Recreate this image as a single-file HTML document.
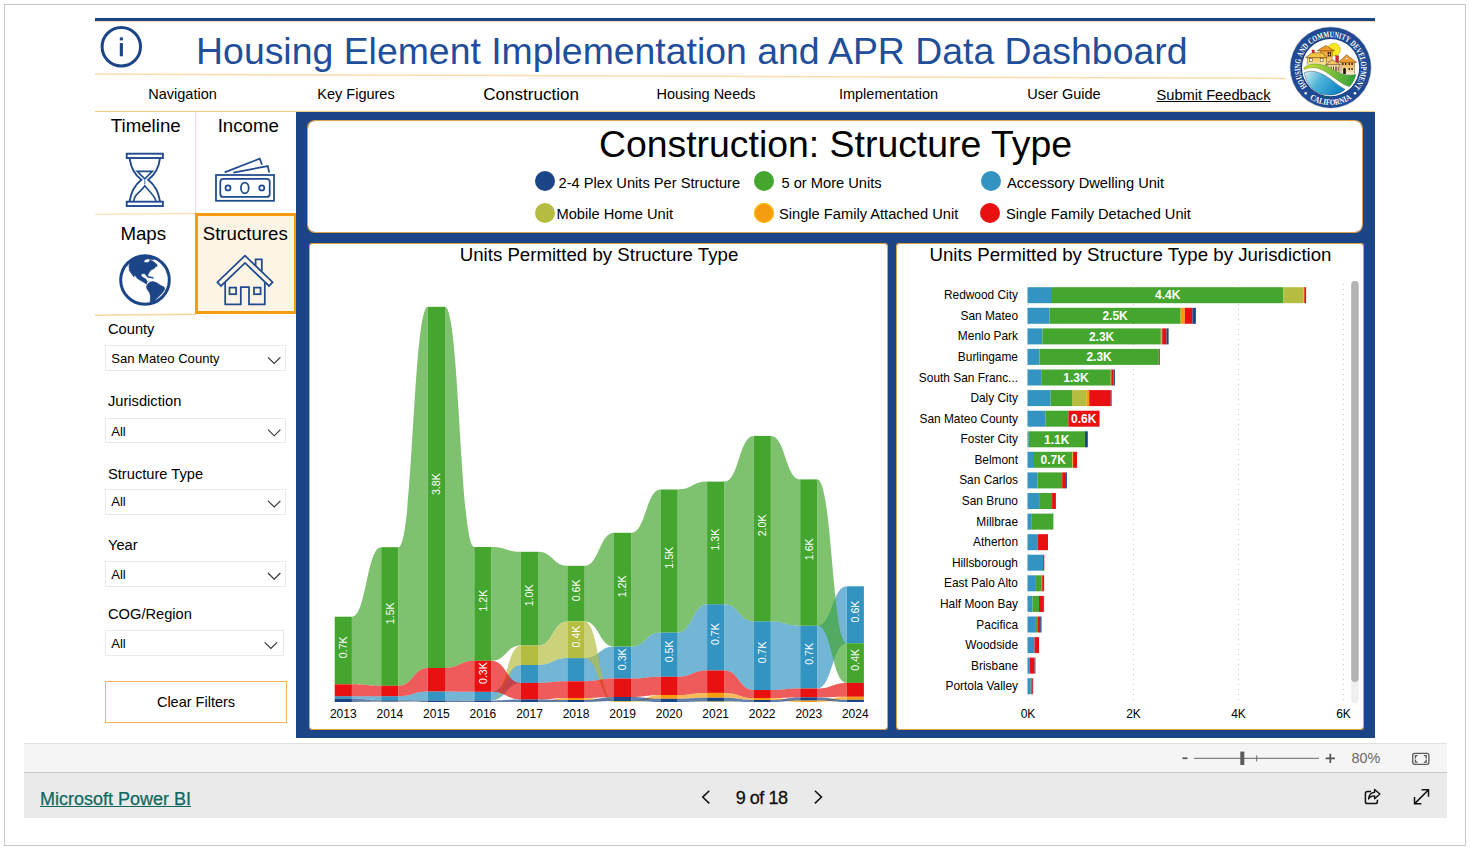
<!DOCTYPE html>
<html lang="en">
<head>
<meta charset="utf-8">
<title>Housing Element Implementation and APR Data Dashboard</title>
<style>
*{box-sizing:border-box;margin:0;padding:0}
html,body{width:1470px;height:849px;overflow:hidden;background:#fff}
body{position:relative;font-family:"Liberation Sans",Arial,sans-serif;color:#000}
.abs{position:absolute}
#frame{left:4px;top:4px;width:1462px;height:842px;border:1px solid #c8c8c8}
#topline{left:95px;top:18px;width:1280px;height:3.6px;background:#1C4587}
#topline2{left:95px;top:21.4px;width:1280px;height:1px;background:#f9dcae}
#title{left:191.8px;top:29.1px;width:1000px;height:44px;line-height:44px;font-size:37.4px;color:#1F4E9A;white-space:nowrap;text-align:center}
.oline{background:#fbd9a6;height:1.3px}
.nav{top:84px;height:20px;line-height:20px;font-size:14.5px;white-space:nowrap;transform:translateX(-50%)}
#blueframe{left:296.4px;top:112px;width:1078.6px;height:626px;background:#1C4587}
.panel{background:#fff;background-clip:padding-box;border:1px solid rgba(255,176,64,0.85);border-radius:3px}
.tile{width:100.5px;text-align:center;font-size:18.67px;line-height:22px;white-space:nowrap}
.slab{left:108px;font-size:14.67px;line-height:18px;white-space:nowrap}
.sbox{left:105px;width:181px;height:25.5px;border:1px solid #eaeaea;font-size:13.1px;line-height:25.5px;padding-left:5.2px;white-space:nowrap}
.leg{font-size:14.67px;line-height:18px;white-space:nowrap}
.dot{width:20px;height:20px;border-radius:50%}
.ctitle{font-size:18.67px;line-height:22px;white-space:nowrap;text-align:center}
svg text{font-family:"Liberation Sans",Arial,sans-serif}
#sb1{left:24px;top:743px;width:1423px;height:30px;background:#f5f5f5;border-top:1px solid #e1e1e1;border-bottom:1px solid #c8c8c8}
#sb2{left:24px;top:773px;width:1423px;height:45px;background:#eaeaea}
</style>
</head>
<body>
<div id="frame" class="abs"></div>

<!-- header -->
<div id="topline" class="abs"></div>
<div id="topline2" class="abs"></div>
<svg class="abs" style="left:99px;top:24px" width="45" height="45" viewBox="0 0 45 45">
  <circle cx="22.3" cy="22.75" r="19.2" fill="none" stroke="#1C4587" stroke-width="3"/>
  <rect x="20.8" y="19.1" width="3.1" height="13.2" fill="#1C4587"/>
  <rect x="20.8" y="13.4" width="3.1" height="3" fill="#1C4587"/>
</svg>
<div id="title" class="abs">Housing Element Implementation and APR Data Dashboard</div>
<svg class="abs" style="left:0;top:0" width="1470" height="400" viewBox="0 0 1470 400"><line x1="95" y1="74.05" x2="1286" y2="78.4" stroke="#fbdcae" stroke-width="1.5"/><line x1="95" y1="214.4" x2="196" y2="213.5" stroke="#fce0b8" stroke-width="1.4"/><line x1="95" y1="315.3" x2="196" y2="314.3" stroke="#fbd5a0" stroke-width="1.4"/></svg>
<div class="abs nav" style="left:182.5px">Navigation</div>
<div class="abs nav" style="left:356px">Key Figures</div>
<div class="abs nav" style="left:531.2px;font-size:17.07px;top:85px">Construction</div>
<div class="abs nav" style="left:706px">Housing Needs</div>
<div class="abs nav" style="left:888.5px">Implementation</div>
<div class="abs nav" style="left:1064px">User Guide</div>
<div class="abs nav" style="left:1213.5px;text-decoration:underline;font-size:14.67px;top:85px">Submit Feedback</div>
<div class="abs oline" style="left:95px;top:110.8px;width:1280px;height:1.2px;background:#f9c98a"></div>
<svg class="abs" style="left:1285px;top:22px" width="92" height="92" viewBox="-45.6 -45.6 92 92">
  <defs>
    <linearGradient id="lgGreen" x1="0" y1="0" x2="1" y2="0"><stop offset="0" stop-color="#d4e02a"/><stop offset="0.45" stop-color="#8cc63a"/><stop offset="1" stop-color="#2f9e3a"/></linearGradient>
    <linearGradient id="lgBlue" x1="0" y1="0" x2="1" y2="0.4"><stop offset="0" stop-color="#d8eef4"/><stop offset="0.45" stop-color="#4db4d8"/><stop offset="1" stop-color="#1488c4"/></linearGradient>
    <linearGradient id="lgH1" x1="0" y1="0" x2="0" y2="1"><stop offset="0" stop-color="#f8c64a"/><stop offset="1" stop-color="#fbeab0"/></linearGradient>
    <linearGradient id="lgH2" x1="0" y1="0" x2="0" y2="1"><stop offset="0" stop-color="#f39a25"/><stop offset="1" stop-color="#f8cf7a"/></linearGradient>
    <linearGradient id="lgH3" x1="0" y1="0" x2="0" y2="1"><stop offset="0" stop-color="#f4a73a"/><stop offset="1" stop-color="#fdf3dc"/></linearGradient>
    <clipPath id="lgClip"><circle cx="0" cy="0" r="28.6"/></clipPath>
    <path id="lgTop" d="M-23.63,19.13 A30.4,30.4 0 1 1 23.63,19.13"/>
    <path id="lgBot" d="M-20.97,31.09 A37.5,37.5 0 0 0 20.97,31.09"/>
  </defs>
  <circle cx="0" cy="0" r="41" fill="#c9ccd4"/>
  <circle cx="0" cy="0" r="40.3" fill="#1F4A93"/>
  <circle cx="0" cy="0" r="29.2" fill="#16356e"/>
  <circle cx="0" cy="0" r="28.6" fill="#fff"/>
  <g clip-path="url(#lgClip)">
    <circle cx="3.4" cy="-17.9" r="6.4" fill="#f7ea1e" stroke="#b59a14" stroke-width="0.5"/>
    <!-- back orange house -->
    <path d="M-10.6,-17.1 H1.6 V-6 H-10.6 Z" fill="url(#lgH2)" stroke="#5a3a10" stroke-width="0.4"/>
    <path d="M-13.5,-16.8 L-4.8,-22.2 L3.9,-16.8 Z" fill="#f39a25" stroke="#5a3a10" stroke-width="0.5"/>
    <path d="M-2.9,-15.6 h1.4 v1.9 h-1.4z M-0.9,-15.6 h1.4 v1.9 h-1.4z M-2.9,-13.1 h1.4 v1.9 h-1.4z M-0.9,-13.1 h1.4 v1.9 h-1.4z" fill="#3a2508"/>
    <!-- red chimneys -->
    <rect x="-18.6" y="-17.6" width="2.4" height="3" fill="#d8202a" stroke="#6a1010" stroke-width="0.3"/>
    <rect x="5.1" y="-11.8" width="2.9" height="6.6" fill="#d8202a" stroke="#6a1010" stroke-width="0.3"/>
    <!-- left house -->
    <path d="M-23.3,-10.2 H-4.2 V-1.5 H-23.3 Z" fill="url(#lgH1)" stroke="#5a3a10" stroke-width="0.4"/>
    <path d="M-25.2,-10 L-18.2,-14.8 H-8.8 L-3.4,-10 Z" fill="#f6c345" stroke="#5a3a10" stroke-width="0.5"/>
    <rect x="-21" y="-8.9" width="2.8" height="2.6" fill="#fff" stroke="#4a3a20" stroke-width="0.5"/>
    <rect x="-10.4" y="-8.9" width="2.8" height="2.6" fill="#fff" stroke="#4a3a20" stroke-width="0.5"/>
    <!-- right house -->
    <path d="M10.3,-5.6 H23.9 V7.5 H10.3 Z" fill="url(#lgH3)" stroke="#5a3a10" stroke-width="0.4"/>
    <path d="M7.8,-5.3 L15.9,-12.9 L25.9,-5.3 Z" fill="#f3a030" stroke="#5a3a10" stroke-width="0.5"/>
    <circle cx="15.9" cy="-9.2" r="1.2" fill="#fff" stroke="#5a3a10" stroke-width="0.3"/>
    <path d="M11.6,-4.6 h1.3 v2 h-1.3z M14.4,-4.6 h1.3 v2 h-1.3z M18,-4.6 h1.3 v2 h-1.3z M20.8,-4.6 h1.3 v2 h-1.3z M18,0.3 h1.3 v2 h-1.3z M20.8,0.3 h1.3 v2 h-1.3z" fill="#2a1a08"/>
    <path d="M12.6,6.5 V1.8 a1.3,1.3 0 0 1 2.6,0 V6.5 Z" fill="#111"/>
    <!-- front tan house -->
    <path d="M-3.7,-3.3 H9 V5 H-3.7 Z" fill="#f3d9a0" stroke="#5a3a10" stroke-width="0.4"/>
    <path d="M-5.1,-3 L1.6,-7.8 L9.8,-3 Z" fill="#f4c26a" stroke="#5a3a10" stroke-width="0.5"/>
    <path d="M0.2,-1 h1 v4.6 h-1z M2.4,-1 h1 v4.6 h-1z M4.6,-1 h1.6 v4.6 h-1.6z M7.2,-1 h0.9 v4.6 h-0.9z" fill="#6b5a3a"/>
    <!-- white band -->
    <path d="M-27.5,0 C-22,-6 -12,-5.5 -2,-0.5 C8,5.5 14,9.5 26,6.5 L21,21 L0,28.5 L-28,10 Z" fill="#fff"/>
    <!-- green wave -->
    <path d="M-26.8,0.2 C-21,-5.2 -12,-4.8 -1,-0.2 C8,5.5 15,9.4 25.4,7 C24,12 21.5,16.5 19.2,19 C12,17 6,12 -1,6.8 C-9,1 -17,-2.6 -26,2 Z" fill="url(#lgGreen)" stroke="#2a5a1a" stroke-width="0.35"/>
    <!-- blue water -->
    <path d="M-26.2,5 C-18,1.6 -9,5 0,11.6 C5,15.5 10,19.6 14.5,21.8 C9,27 -2,29.5 -12,25.5 C-21,21 -25.5,13 -26.2,5 Z" fill="url(#lgBlue)" stroke="#1a3a5a" stroke-width="0.4"/>
  </g>
  <g fill="#fff" style="font-family:'Liberation Serif','DejaVu Serif',serif;font-weight:bold;font-size:8.5px;word-spacing:1px">
    <text style="font-family:inherit"><textPath href="#lgTop" startOffset="0" textLength="136.9" lengthAdjust="spacingAndGlyphs">HOUSING AND COMMUNITY DEVELOPMENT</textPath></text>
    <text style="font-family:inherit"><textPath href="#lgBot" startOffset="0" textLength="44.5" lengthAdjust="spacingAndGlyphs">CALIFORNIA</textPath></text>
  </g>
  <circle cx="-24.9" cy="25.6" r="1.3" fill="#fff"/>
  <circle cx="24.4" cy="25.6" r="1.3" fill="#fff"/>
</svg>


<!-- sidebar tiles -->
<div class="abs" style="left:195px;top:112px;width:1.2px;height:102px;background:#fbdcb0"></div>
<div class="abs tile" style="left:95.5px;top:114.6px">Timeline</div>
<div class="abs tile" style="left:198px;top:114.6px">Income</div>
<div class="abs" style="left:195px;top:213px;width:102px;height:100.9px;border:3px solid #F59C14;background:#FEF4E6"></div>
<div class="abs tile" style="left:93px;top:222.5px">Maps</div>
<div class="abs tile" style="left:195px;top:222.5px">Structures</div>
<svg class="abs" style="left:0;top:0" width="1470" height="849" viewBox="0 0 1470 849" fill="none" stroke="#1F4B8E" stroke-width="1.75" stroke-linejoin="miter">
  <!-- hourglass -->
  <g stroke-width="1.9">
  <rect x="126.7" y="153.7" width="36.2" height="4.3"/>
  <rect x="126.7" y="201.7" width="36.2" height="4.3"/>
  <path d="M129.6,158.4 C131,169 135.5,175.5 141.4,179.8 C135.5,184.5 131,192 129.6,201.4"/>
  <path d="M160,158.4 C158.6,169 154.1,175.5 148.2,179.8 C154.1,184.5 158.6,192 160,201.4"/>
  <path d="M137.2,171.4 H152.4 L144.8,178.8 Z" stroke-width="1.6"/>
  <path d="M144.8,186 C142,190 137,193.5 135.5,196 C134.5,197.8 133.8,199.5 133.6,201 M144.8,186 C148.5,190.5 154.5,195.5 156,201" stroke-width="1.6"/>
  <path d="M144.8,180.5 v5.5" stroke-width="1.4" stroke-dasharray="1.2 0.9"/>
  </g>
  <!-- money -->
  <rect x="216" y="175" width="58" height="25.8"/>
  <rect x="220.3" y="178.9" width="49.4" height="18" rx="3"/>
  <ellipse cx="244.8" cy="187.9" rx="3.9" ry="5.4"/>
  <circle cx="228" cy="187.9" r="2.5"/>
  <circle cx="261.8" cy="187.9" r="2.5"/>
  <path d="M224.6,172.4 L259.7,158.7 L262,164.8 M233.4,172.6 L267.8,166.1 L269.2,172.6"/>
  <!-- house -->
  <path d="M245,255.6 L217.4,282.2 L221,286 L245,262.9 L269,286 L272.6,282.2 Z"/>
  <path d="M255.6,265.6 V259.4 H261.8 V271.5"/>
  <path d="M225.2,282.6 V304.4 H240.8 V287.2 H249 V304.4 H264.8 V282.6"/>
  <rect x="229.5" y="287.6" width="6.6" height="6.6"/>
  <rect x="254" y="287.6" width="6.6" height="6.6"/>
</svg>
<svg class="abs" style="left:117px;top:251.75px" width="56" height="56" viewBox="-28 -28 56 56">
  <!-- globe -->
  <defs><clipPath id="gbClip"><circle cx="0" cy="0" r="24.6"/></clipPath></defs>
  <circle cx="0" cy="0" r="24.3" fill="#fff" stroke="#1C4587" stroke-width="3"/>
  <g fill="#1C4587" stroke="#1C4587" stroke-width="0.6" stroke-linejoin="round" clip-path="url(#gbClip)">
    <path d="M-16.0,-14.8 L-15.7,-9.5 L-11.1,-3.1 L-10.3,-5.2 L-7.7,-1.6 L-3.9,0.8 L-0.9,2.6 L1.4,4.3 L2.3,1.4 L0.6,-1.2 L-1.3,-2.2 L-2.9,-2.9 L-4.1,-5.0 L-2.8,-6.3 L-0.2,-6.3 L1.4,-4.2 L2.5,-2.7 L3.1,-5.4 L4.1,-7.6 L6.3,-10.2 L9.3,-11.5 L10.4,-13.3 L12.3,-13.8 L11.5,-15.9 L9.3,-17.8 L7.0,-19.3 L4.7,-19.7 L4.0,-17.8 L1.0,-17.3 L-1.3,-18.2 L-0.5,-20.0 L2.5,-21.2 L6.3,-20.4 L9.3,-20.4 L4.7,-24.2 L0.0,-25.3 L-8.1,-24.2 L-14.1,-19.7Z"/>
    <path d="M2.5,-3.7 L8.1,-2.6 L8.4,-1.7 L3.2,-2.6Z"/>
    <path d="M2.5,4.3 L4.7,2.2 L7.8,1.4 L11.5,2.6 L15.3,5.2 L19.1,7.1 L19.8,9.3 L16.8,13.5 L12.3,18.0 L9.3,21.0 L6.3,23.7 L5.1,22.5 L5.5,16.5 L4.7,12.7 L2.1,9.3 L1.4,6.7Z"/>
  </g>
</svg>


<!-- slicers -->
<div class="abs slab" style="top:320px">County</div>
<div class="abs sbox" style="top:345px">San Mateo County</div>
<div class="abs slab" style="top:392px">Jurisdiction</div>
<div class="abs sbox" style="top:417.5px">All</div>
<div class="abs slab" style="top:464.5px">Structure Type</div>
<div class="abs sbox" style="top:489px;line-height:24px">All</div>
<div class="abs slab" style="top:536px">Year</div>
<div class="abs sbox" style="top:561px">All</div>
<div class="abs slab" style="top:605.4px">COG/Region</div>
<div class="abs sbox" style="top:630.4px;width:179px">All</div>
<svg class="abs" style="left:0;top:0;pointer-events:none" width="1470" height="849" fill="none" stroke="#333" stroke-width="1.15">
  <path d="M268,357.3 l6.2,6.2 l6.2,-6.2"/>
  <path d="M268,429.6 l6.2,6.2 l6.2,-6.2"/>
  <path d="M268,500.8 l6.2,6.2 l6.2,-6.2"/>
  <path d="M268,573 l6.2,6.2 l6.2,-6.2"/>
  <path d="M264.7,642.3 l6.2,6.2 l6.2,-6.2"/>
</svg>
<div class="abs" style="left:105px;top:680.5px;width:182px;height:42.5px;border:1.2px solid #f7b656;text-align:center;line-height:40px;font-size:14.5px">Clear Filters</div>

<!-- main -->
<div id="blueframe" class="abs"></div>
<div class="abs panel" style="left:306.8px;top:119.8px;width:1056px;height:113px;border-radius:8px"></div>
<div class="abs panel" style="left:308.6px;top:243px;width:579.2px;height:487px"></div>
<div class="abs panel" style="left:896px;top:243px;width:467.8px;height:487px"></div>

<div class="abs" style="left:307px;top:121.1px;width:1057px;height:46px;line-height:46px;font-size:37.4px;text-align:center;white-space:nowrap">Construction: Structure Type</div>

<div class="abs dot" style="left:535px;top:171px;background:#1C4587"></div>
<div class="abs leg" style="left:558.5px;top:174px">2-4 Plex Units Per Structure</div>
<div class="abs dot" style="left:754px;top:171px;background:#44A62E"></div>
<div class="abs leg" style="left:781.5px;top:174px">5 or More Units</div>
<div class="abs dot" style="left:981px;top:171px;background:#3394C2"></div>
<div class="abs leg" style="left:1007px;top:174px">Accessory Dwelling Unit</div>
<div class="abs dot" style="left:535px;top:202.5px;background:#B5BD40"></div>
<div class="abs leg" style="left:556.5px;top:205px">Mobile Home Unit</div>
<div class="abs dot" style="left:754px;top:202.5px;background:#F59C0F;box-shadow:inset 0 0 0 1px #fcc419"></div>
<div class="abs leg" style="left:779px;top:205px">Single Family Attached Unit</div>
<div class="abs dot" style="left:980px;top:202.5px;background:#E81010"></div>
<div class="abs leg" style="left:1006px;top:205px">Single Family Detached Unit</div>

<div class="abs ctitle" style="left:309px;top:244px;width:580px">Units Permitted by Structure Type</div>
<div class="abs ctitle" style="left:896px;top:244px;width:469px">Units Permitted by Structure Type by Jurisdiction</div>

<svg class="abs" style="left:0;top:0" width="1470" height="849" viewBox="0 0 1470 849">
<path d="M351.9,696.2C366.6,696.2 366.6,696.2 381.2,696.2L381.2,700.3C366.6,700.3 366.6,698.8 351.9,698.8Z" fill="#3394C2" fill-opacity="0.69"/>
<path d="M351.9,616.7C366.6,616.7 366.6,547.2 381.2,547.2L381.2,685.8C366.6,685.8 366.6,684.3 351.9,684.3Z" fill="#44A62E" fill-opacity="0.69"/>
<path d="M351.9,702.0C366.6,702.0 366.6,701.6 381.2,701.6L381.2,702.0C366.6,702.0 366.6,702.0 351.9,702.0Z" fill="#B5BD40" fill-opacity="0.69"/>
<path d="M351.9,684.3C366.6,684.3 366.6,685.8 381.2,685.8L381.2,696.2C366.6,696.2 366.6,696.2 351.9,696.2Z" fill="#E81010" fill-opacity="0.69"/>
<path d="M351.9,698.8C366.6,698.8 366.6,700.3 381.2,700.3L381.2,701.6C366.6,701.6 366.6,702.0 351.9,702.0Z" fill="#1C4587" fill-opacity="0.69"/>
<path d="M398.5,696.2C413.1,696.2 413.1,691.4 427.8,691.4L427.8,700.5C413.1,700.5 413.1,700.3 398.5,700.3Z" fill="#3394C2" fill-opacity="0.69"/>
<path d="M398.5,547.2C413.1,547.2 413.1,306.8 427.8,306.8L427.8,668.0C413.1,668.0 413.1,685.8 398.5,685.8Z" fill="#44A62E" fill-opacity="0.69"/>
<path d="M398.5,701.6C413.1,701.6 413.1,702.0 427.8,702.0L427.8,702.0C413.1,702.0 413.1,702.0 398.5,702.0Z" fill="#B5BD40" fill-opacity="0.69"/>
<path d="M398.5,685.8C413.1,685.8 413.1,668.0 427.8,668.0L427.8,691.4C413.1,691.4 413.1,696.2 398.5,696.2Z" fill="#E81010" fill-opacity="0.69"/>
<path d="M398.5,700.3C413.1,700.3 413.1,700.5 427.8,700.5L427.8,702.0C413.1,702.0 413.1,701.6 398.5,701.6Z" fill="#1C4587" fill-opacity="0.69"/>
<path d="M445.0,691.4C459.7,691.4 459.7,691.8 474.3,691.8L474.3,700.2C459.7,700.2 459.7,700.5 445.0,700.5Z" fill="#3394C2" fill-opacity="0.69"/>
<path d="M445.0,306.8C459.7,306.8 459.7,547.0 474.3,547.0L474.3,660.8C459.7,660.8 459.7,668.0 445.0,668.0Z" fill="#44A62E" fill-opacity="0.69"/>
<path d="M445.0,702.0C459.7,702.0 459.7,700.2 474.3,700.2L474.3,700.4C459.7,700.4 459.7,702.0 445.0,702.0Z" fill="#B5BD40" fill-opacity="0.69"/>
<path d="M445.0,668.0C459.7,668.0 459.7,660.8 474.3,660.8L474.3,691.8C459.7,691.8 459.7,691.4 445.0,691.4Z" fill="#E81010" fill-opacity="0.69"/>
<path d="M445.0,700.5C459.7,700.5 459.7,700.4 474.3,700.4L474.3,702.0C459.7,702.0 459.7,702.0 445.0,702.0Z" fill="#1C4587" fill-opacity="0.69"/>
<path d="M491.6,691.8C506.2,691.8 506.2,665.0 520.9,665.0L520.9,682.9C506.2,682.9 506.2,700.2 491.6,700.2Z" fill="#3394C2" fill-opacity="0.69"/>
<path d="M491.6,547.0C506.2,547.0 506.2,551.8 520.9,551.8L520.9,645.5C506.2,645.5 506.2,660.8 491.6,660.8Z" fill="#44A62E" fill-opacity="0.69"/>
<path d="M491.6,700.2C506.2,700.2 506.2,645.5 520.9,645.5L520.9,665.0C506.2,665.0 506.2,700.4 491.6,700.4Z" fill="#B5BD40" fill-opacity="0.69"/>
<path d="M491.6,660.8C506.2,660.8 506.2,682.9 520.9,682.9L520.9,699.5C506.2,699.5 506.2,691.8 491.6,691.8Z" fill="#E81010" fill-opacity="0.69"/>
<path d="M491.6,700.4C506.2,700.4 506.2,699.5 520.9,699.5L520.9,702.0C506.2,702.0 506.2,702.0 491.6,702.0Z" fill="#1C4587" fill-opacity="0.69"/>
<path d="M538.1,665.0C552.8,665.0 552.8,658.1 567.4,658.1L567.4,681.3C552.8,681.3 552.8,682.9 538.1,682.9Z" fill="#3394C2" fill-opacity="0.69"/>
<path d="M538.1,551.8C552.8,551.8 552.8,565.8 567.4,565.8L567.4,621.4C552.8,621.4 552.8,645.5 538.1,645.5Z" fill="#44A62E" fill-opacity="0.69"/>
<path d="M538.1,645.5C552.8,645.5 552.8,621.4 567.4,621.4L567.4,658.1C552.8,658.1 552.8,665.0 538.1,665.0Z" fill="#B5BD40" fill-opacity="0.69"/>
<path d="M538.1,682.9C552.8,682.9 552.8,681.3 567.4,681.3L567.4,698.0C552.8,698.0 552.8,699.5 538.1,699.5Z" fill="#E81010" fill-opacity="0.69"/>
<path d="M538.1,702.0C552.8,702.0 552.8,698.0 567.4,698.0L567.4,700.0C552.8,700.0 552.8,702.0 538.1,702.0Z" fill="#F59C0F" fill-opacity="0.69"/>
<path d="M538.1,699.5C552.8,699.5 552.8,700.0 567.4,700.0L567.4,702.0C552.8,702.0 552.8,702.0 538.1,702.0Z" fill="#1C4587" fill-opacity="0.69"/>
<path d="M584.6,658.1C599.3,658.1 599.3,646.5 614.0,646.5L614.0,678.6C599.3,678.6 599.3,681.3 584.6,681.3Z" fill="#3394C2" fill-opacity="0.69"/>
<path d="M584.6,565.8C599.3,565.8 599.3,532.8 614.0,532.8L614.0,646.5C599.3,646.5 599.3,621.4 584.6,621.4Z" fill="#44A62E" fill-opacity="0.69"/>
<path d="M584.6,621.4C599.3,621.4 599.3,701.2 614.0,701.2L614.0,702.0C599.3,702.0 599.3,658.1 584.6,658.1Z" fill="#B5BD40" fill-opacity="0.69"/>
<path d="M584.6,681.3C599.3,681.3 599.3,678.6 614.0,678.6L614.0,697.0C599.3,697.0 599.3,698.0 584.6,698.0Z" fill="#E81010" fill-opacity="0.69"/>
<path d="M584.6,698.0C599.3,698.0 599.3,701.0 614.0,701.0L614.0,701.2C599.3,701.2 599.3,700.0 584.6,700.0Z" fill="#F59C0F" fill-opacity="0.69"/>
<path d="M584.6,700.0C599.3,700.0 599.3,697.0 614.0,697.0L614.0,701.0C599.3,701.0 599.3,702.0 584.6,702.0Z" fill="#1C4587" fill-opacity="0.69"/>
<path d="M631.2,646.5C645.9,646.5 645.9,632.4 660.5,632.4L660.5,676.8C645.9,676.8 645.9,678.6 631.2,678.6Z" fill="#3394C2" fill-opacity="0.69"/>
<path d="M631.2,532.8C645.9,532.8 645.9,489.5 660.5,489.5L660.5,632.4C645.9,632.4 645.9,646.5 631.2,646.5Z" fill="#44A62E" fill-opacity="0.69"/>
<path d="M631.2,701.2C645.9,701.2 645.9,702.0 660.5,702.0L660.5,702.0C645.9,702.0 645.9,702.0 631.2,702.0Z" fill="#B5BD40" fill-opacity="0.69"/>
<path d="M631.2,678.6C645.9,678.6 645.9,676.8 660.5,676.8L660.5,695.0C645.9,695.0 645.9,697.0 631.2,697.0Z" fill="#E81010" fill-opacity="0.69"/>
<path d="M631.2,701.0C645.9,701.0 645.9,695.0 660.5,695.0L660.5,698.8C645.9,698.8 645.9,701.2 631.2,701.2Z" fill="#F59C0F" fill-opacity="0.69"/>
<path d="M631.2,697.0C645.9,697.0 645.9,698.8 660.5,698.8L660.5,702.0C645.9,702.0 645.9,701.0 631.2,701.0Z" fill="#1C4587" fill-opacity="0.69"/>
<path d="M677.8,632.4C692.4,632.4 692.4,604.2 707.1,604.2L707.1,670.5C692.4,670.5 692.4,676.8 677.8,676.8Z" fill="#3394C2" fill-opacity="0.69"/>
<path d="M677.8,489.5C692.4,489.5 692.4,481.6 707.1,481.6L707.1,604.2C692.4,604.2 692.4,632.4 677.8,632.4Z" fill="#44A62E" fill-opacity="0.69"/>
<path d="M677.8,702.0C692.4,702.0 692.4,701.2 707.1,701.2L707.1,702.0C692.4,702.0 692.4,702.0 677.8,702.0Z" fill="#B5BD40" fill-opacity="0.69"/>
<path d="M677.8,676.8C692.4,676.8 692.4,670.5 707.1,670.5L707.1,692.9C692.4,692.9 692.4,695.0 677.8,695.0Z" fill="#E81010" fill-opacity="0.69"/>
<path d="M677.8,695.0C692.4,695.0 692.4,692.9 707.1,692.9L707.1,697.8C692.4,697.8 692.4,698.8 677.8,698.8Z" fill="#F59C0F" fill-opacity="0.69"/>
<path d="M677.8,698.8C692.4,698.8 692.4,697.8 707.1,697.8L707.1,701.2C692.4,701.2 692.4,702.0 677.8,702.0Z" fill="#1C4587" fill-opacity="0.69"/>
<path d="M724.3,604.2C739.0,604.2 739.0,621.3 753.6,621.3L753.6,690.0C739.0,690.0 739.0,670.5 724.3,670.5Z" fill="#3394C2" fill-opacity="0.69"/>
<path d="M724.3,481.6C739.0,481.6 739.0,435.9 753.6,435.9L753.6,621.3C739.0,621.3 739.0,604.2 724.3,604.2Z" fill="#44A62E" fill-opacity="0.69"/>
<path d="M724.3,701.2C739.0,701.2 739.0,702.0 753.6,702.0L753.6,702.0C739.0,702.0 739.0,702.0 724.3,702.0Z" fill="#B5BD40" fill-opacity="0.69"/>
<path d="M724.3,670.5C739.0,670.5 739.0,690.0 753.6,690.0L753.6,698.0C739.0,698.0 739.0,692.9 724.3,692.9Z" fill="#E81010" fill-opacity="0.69"/>
<path d="M724.3,692.9C739.0,692.9 739.0,698.0 753.6,698.0L753.6,700.0C739.0,700.0 739.0,697.8 724.3,697.8Z" fill="#F59C0F" fill-opacity="0.69"/>
<path d="M724.3,697.8C739.0,697.8 739.0,700.0 753.6,700.0L753.6,702.0C739.0,702.0 739.0,701.2 724.3,701.2Z" fill="#1C4587" fill-opacity="0.69"/>
<path d="M770.9,621.3C785.5,621.3 785.5,625.7 800.2,625.7L800.2,688.5C785.5,688.5 785.5,690.0 770.9,690.0Z" fill="#3394C2" fill-opacity="0.69"/>
<path d="M770.9,435.9C785.5,435.9 785.5,479.4 800.2,479.4L800.2,625.7C785.5,625.7 785.5,621.3 770.9,621.3Z" fill="#44A62E" fill-opacity="0.69"/>
<path d="M770.9,690.0C785.5,690.0 785.5,688.5 800.2,688.5L800.2,697.4C785.5,697.4 785.5,698.0 770.9,698.0Z" fill="#E81010" fill-opacity="0.69"/>
<path d="M770.9,698.0C785.5,698.0 785.5,700.4 800.2,700.4L800.2,702.0C785.5,702.0 785.5,700.0 770.9,700.0Z" fill="#F59C0F" fill-opacity="0.69"/>
<path d="M770.9,700.0C785.5,700.0 785.5,697.4 800.2,697.4L800.2,700.4C785.5,700.4 785.5,702.0 770.9,702.0Z" fill="#1C4587" fill-opacity="0.69"/>
<path d="M817.4,625.7C832.1,625.7 832.1,586.3 846.7,586.3L846.7,643.2C832.1,643.2 832.1,688.5 817.4,688.5Z" fill="#3394C2" fill-opacity="0.69"/>
<path d="M817.4,479.4C832.1,479.4 832.1,643.2 846.7,643.2L846.7,682.9C832.1,682.9 832.1,625.7 817.4,625.7Z" fill="#44A62E" fill-opacity="0.69"/>
<path d="M817.4,688.5C832.1,688.5 832.1,682.9 846.7,682.9L846.7,696.8C832.1,696.8 832.1,697.4 817.4,697.4Z" fill="#E81010" fill-opacity="0.69"/>
<path d="M817.4,700.4C832.1,700.4 832.1,696.8 846.7,696.8L846.7,699.8C832.1,699.8 832.1,702.0 817.4,702.0Z" fill="#F59C0F" fill-opacity="0.69"/>
<path d="M817.4,697.4C832.1,697.4 832.1,699.8 846.7,699.8L846.7,702.0C832.1,702.0 832.1,700.4 817.4,700.4Z" fill="#1C4587" fill-opacity="0.69"/>
<rect x="334.7" y="696.2" width="17.2" height="2.6" fill="#3394C2"/>
<rect x="334.7" y="616.7" width="17.2" height="67.6" fill="#44A62E"/>
<rect x="334.7" y="684.3" width="17.2" height="11.9" fill="#E81010"/>
<rect x="334.7" y="698.8" width="17.2" height="3.2" fill="#1C4587"/>
<rect x="381.2" y="696.2" width="17.2" height="4.1" fill="#3394C2"/>
<rect x="381.2" y="547.2" width="17.2" height="138.6" fill="#44A62E"/>
<rect x="381.2" y="701.6" width="17.2" height="0.4" fill="#B5BD40"/>
<rect x="381.2" y="685.8" width="17.2" height="10.4" fill="#E81010"/>
<rect x="381.2" y="700.3" width="17.2" height="1.3" fill="#1C4587"/>
<rect x="427.8" y="691.4" width="17.2" height="9.1" fill="#3394C2"/>
<rect x="427.8" y="306.8" width="17.2" height="361.2" fill="#44A62E"/>
<rect x="427.8" y="668.0" width="17.2" height="23.4" fill="#E81010"/>
<rect x="427.8" y="700.5" width="17.2" height="1.5" fill="#1C4587"/>
<rect x="474.3" y="691.8" width="17.2" height="8.4" fill="#3394C2"/>
<rect x="474.3" y="547.0" width="17.2" height="113.8" fill="#44A62E"/>
<rect x="474.3" y="700.2" width="17.2" height="0.2" fill="#B5BD40"/>
<rect x="474.3" y="660.8" width="17.2" height="31.0" fill="#E81010"/>
<rect x="474.3" y="700.4" width="17.2" height="1.6" fill="#1C4587"/>
<rect x="520.9" y="665.0" width="17.2" height="17.9" fill="#3394C2"/>
<rect x="520.9" y="551.8" width="17.2" height="93.7" fill="#44A62E"/>
<rect x="520.9" y="645.5" width="17.2" height="19.5" fill="#B5BD40"/>
<rect x="520.9" y="682.9" width="17.2" height="16.6" fill="#E81010"/>
<rect x="520.9" y="699.5" width="17.2" height="2.5" fill="#1C4587"/>
<rect x="567.4" y="658.1" width="17.2" height="23.2" fill="#3394C2"/>
<rect x="567.4" y="565.8" width="17.2" height="55.6" fill="#44A62E"/>
<rect x="567.4" y="621.4" width="17.2" height="36.7" fill="#B5BD40"/>
<rect x="567.4" y="681.3" width="17.2" height="16.7" fill="#E81010"/>
<rect x="567.4" y="698.0" width="17.2" height="2.0" fill="#F59C0F"/>
<rect x="567.4" y="700.0" width="17.2" height="2.0" fill="#1C4587"/>
<rect x="614.0" y="646.5" width="17.2" height="32.1" fill="#3394C2"/>
<rect x="614.0" y="532.8" width="17.2" height="113.7" fill="#44A62E"/>
<rect x="614.0" y="701.2" width="17.2" height="0.8" fill="#B5BD40"/>
<rect x="614.0" y="678.6" width="17.2" height="18.4" fill="#E81010"/>
<rect x="614.0" y="701.0" width="17.2" height="0.2" fill="#F59C0F"/>
<rect x="614.0" y="697.0" width="17.2" height="4.0" fill="#1C4587"/>
<rect x="660.5" y="632.4" width="17.2" height="44.4" fill="#3394C2"/>
<rect x="660.5" y="489.5" width="17.2" height="142.9" fill="#44A62E"/>
<rect x="660.5" y="676.8" width="17.2" height="18.2" fill="#E81010"/>
<rect x="660.5" y="695.0" width="17.2" height="3.8" fill="#F59C0F"/>
<rect x="660.5" y="698.8" width="17.2" height="3.2" fill="#1C4587"/>
<rect x="707.1" y="604.2" width="17.2" height="66.3" fill="#3394C2"/>
<rect x="707.1" y="481.6" width="17.2" height="122.6" fill="#44A62E"/>
<rect x="707.1" y="701.2" width="17.2" height="0.8" fill="#B5BD40"/>
<rect x="707.1" y="670.5" width="17.2" height="22.4" fill="#E81010"/>
<rect x="707.1" y="692.9" width="17.2" height="4.9" fill="#F59C0F"/>
<rect x="707.1" y="697.8" width="17.2" height="3.4" fill="#1C4587"/>
<rect x="753.6" y="621.3" width="17.2" height="68.7" fill="#3394C2"/>
<rect x="753.6" y="435.9" width="17.2" height="185.4" fill="#44A62E"/>
<rect x="753.6" y="690.0" width="17.2" height="8.0" fill="#E81010"/>
<rect x="753.6" y="698.0" width="17.2" height="2.0" fill="#F59C0F"/>
<rect x="753.6" y="700.0" width="17.2" height="2.0" fill="#1C4587"/>
<rect x="800.2" y="625.7" width="17.2" height="62.8" fill="#3394C2"/>
<rect x="800.2" y="479.4" width="17.2" height="146.3" fill="#44A62E"/>
<rect x="800.2" y="688.5" width="17.2" height="8.9" fill="#E81010"/>
<rect x="800.2" y="700.4" width="17.2" height="1.6" fill="#F59C0F"/>
<rect x="800.2" y="697.4" width="17.2" height="3.0" fill="#1C4587"/>
<rect x="846.7" y="586.3" width="17.2" height="56.9" fill="#3394C2"/>
<rect x="846.7" y="643.2" width="17.2" height="39.7" fill="#44A62E"/>
<rect x="846.7" y="682.9" width="17.2" height="13.9" fill="#E81010"/>
<rect x="846.7" y="696.8" width="17.2" height="3.0" fill="#F59C0F"/>
<rect x="846.7" y="699.8" width="17.2" height="2.2" fill="#1C4587"/>
<text transform="translate(347.0,647.3) rotate(-90)" text-anchor="middle" fill="#fff" font-size="10.6">0.7K</text>
<text transform="translate(393.6,613.3) rotate(-90)" text-anchor="middle" fill="#fff" font-size="10.6">1.5K</text>
<text transform="translate(440.1,484.2) rotate(-90)" text-anchor="middle" fill="#fff" font-size="10.6">3.8K</text>
<text transform="translate(486.6,600.7) rotate(-90)" text-anchor="middle" fill="#fff" font-size="10.6">1.2K</text>
<text transform="translate(486.6,673.1) rotate(-90)" text-anchor="middle" fill="#fff" font-size="10.6">0.3K</text>
<text transform="translate(533.2,595.4) rotate(-90)" text-anchor="middle" fill="#fff" font-size="10.6">1.0K</text>
<text transform="translate(579.8,590.4) rotate(-90)" text-anchor="middle" fill="#fff" font-size="10.6">0.6K</text>
<text transform="translate(579.8,636.5) rotate(-90)" text-anchor="middle" fill="#fff" font-size="10.6">0.4K</text>
<text transform="translate(626.3,586.4) rotate(-90)" text-anchor="middle" fill="#fff" font-size="10.6">1.2K</text>
<text transform="translate(626.3,659.3) rotate(-90)" text-anchor="middle" fill="#fff" font-size="10.6">0.3K</text>
<text transform="translate(672.9,557.8) rotate(-90)" text-anchor="middle" fill="#fff" font-size="10.6">1.5K</text>
<text transform="translate(672.9,651.4) rotate(-90)" text-anchor="middle" fill="#fff" font-size="10.6">0.5K</text>
<text transform="translate(719.4,539.7) rotate(-90)" text-anchor="middle" fill="#fff" font-size="10.6">1.3K</text>
<text transform="translate(719.4,634.1) rotate(-90)" text-anchor="middle" fill="#fff" font-size="10.6">0.7K</text>
<text transform="translate(766.0,525.4) rotate(-90)" text-anchor="middle" fill="#fff" font-size="10.6">2.0K</text>
<text transform="translate(766.0,652.4) rotate(-90)" text-anchor="middle" fill="#fff" font-size="10.6">0.7K</text>
<text transform="translate(812.5,549.3) rotate(-90)" text-anchor="middle" fill="#fff" font-size="10.6">1.6K</text>
<text transform="translate(812.5,653.9) rotate(-90)" text-anchor="middle" fill="#fff" font-size="10.6">0.7K</text>
<text transform="translate(859.0,611.5) rotate(-90)" text-anchor="middle" fill="#fff" font-size="10.6">0.6K</text>
<text transform="translate(859.0,659.8) rotate(-90)" text-anchor="middle" fill="#fff" font-size="10.6">0.4K</text>
<text x="343.3" y="717.7" text-anchor="middle" fill="#000" font-size="12">2013</text>
<text x="389.9" y="717.7" text-anchor="middle" fill="#000" font-size="12">2014</text>
<text x="436.4" y="717.7" text-anchor="middle" fill="#000" font-size="12">2015</text>
<text x="482.9" y="717.7" text-anchor="middle" fill="#000" font-size="12">2016</text>
<text x="529.5" y="717.7" text-anchor="middle" fill="#000" font-size="12">2017</text>
<text x="576.0" y="717.7" text-anchor="middle" fill="#000" font-size="12">2018</text>
<text x="622.6" y="717.7" text-anchor="middle" fill="#000" font-size="12">2019</text>
<text x="669.1" y="717.7" text-anchor="middle" fill="#000" font-size="12">2020</text>
<text x="715.7" y="717.7" text-anchor="middle" fill="#000" font-size="12">2021</text>
<text x="762.2" y="717.7" text-anchor="middle" fill="#000" font-size="12">2022</text>
<text x="808.8" y="717.7" text-anchor="middle" fill="#000" font-size="12">2023</text>
<text x="855.3" y="717.7" text-anchor="middle" fill="#000" font-size="12">2024</text>
<line x1="1028.0" y1="284" x2="1028.0" y2="704" stroke="#c9c9c9" stroke-width="1" stroke-dasharray="1 4"/>
<line x1="1133.5" y1="284" x2="1133.5" y2="704" stroke="#c9c9c9" stroke-width="1" stroke-dasharray="1 4"/>
<line x1="1238.5" y1="284" x2="1238.5" y2="704" stroke="#c9c9c9" stroke-width="1" stroke-dasharray="1 4"/>
<line x1="1343.5" y1="284" x2="1343.5" y2="704" stroke="#c9c9c9" stroke-width="1" stroke-dasharray="1 4"/>
<rect x="1027.5" y="287.2" width="24.5" height="16.0" fill="#3394C2"/>
<rect x="1052.0" y="287.2" width="231.3" height="16.0" fill="#44A62E"/>
<rect x="1283.3" y="287.2" width="20.4" height="16.0" fill="#B5BD40"/>
<rect x="1303.7" y="287.2" width="0.6" height="16.0" fill="#F59C0F"/>
<rect x="1304.3" y="287.2" width="1.8" height="16.0" fill="#E81010"/>
<text x="1018" y="299.2" text-anchor="end" fill="#000" font-size="11.9">Redwood City</text>
<text x="1167.7" y="299.4" text-anchor="middle" fill="#fff" font-size="12" font-weight="bold">4.4K</text>
<rect x="1027.5" y="307.8" width="22.1" height="16.0" fill="#3394C2"/>
<rect x="1049.6" y="307.8" width="131.0" height="16.0" fill="#44A62E"/>
<rect x="1180.6" y="307.8" width="4.3" height="16.0" fill="#F59C0F"/>
<rect x="1184.9" y="307.8" width="7.5" height="16.0" fill="#E81010"/>
<rect x="1192.4" y="307.8" width="3.5" height="16.0" fill="#1C4587"/>
<text x="1018" y="319.8" text-anchor="end" fill="#000" font-size="11.9">San Mateo</text>
<text x="1115.1" y="320.0" text-anchor="middle" fill="#fff" font-size="12" font-weight="bold">2.5K</text>
<rect x="1027.5" y="328.4" width="14.9" height="16.0" fill="#3394C2"/>
<rect x="1042.4" y="328.4" width="118.4" height="16.0" fill="#44A62E"/>
<rect x="1160.8" y="328.4" width="1.4" height="16.0" fill="#F59C0F"/>
<rect x="1162.2" y="328.4" width="4.3" height="16.0" fill="#E81010"/>
<rect x="1166.5" y="328.4" width="2.1" height="16.0" fill="#1C4587"/>
<text x="1018" y="340.4" text-anchor="end" fill="#000" font-size="11.9">Menlo Park</text>
<text x="1101.6" y="340.6" text-anchor="middle" fill="#fff" font-size="12" font-weight="bold">2.3K</text>
<rect x="1027.5" y="348.9" width="11.9" height="16.0" fill="#3394C2"/>
<rect x="1039.4" y="348.9" width="119.4" height="16.0" fill="#44A62E"/>
<rect x="1158.8" y="348.9" width="0.6" height="16.0" fill="#E81010"/>
<rect x="1159.4" y="348.9" width="0.6" height="16.0" fill="#1C4587"/>
<text x="1018" y="360.9" text-anchor="end" fill="#000" font-size="11.9">Burlingame</text>
<text x="1099.1" y="361.1" text-anchor="middle" fill="#fff" font-size="12" font-weight="bold">2.3K</text>
<rect x="1027.5" y="369.5" width="13.7" height="16.0" fill="#3394C2"/>
<rect x="1041.2" y="369.5" width="69.6" height="16.0" fill="#44A62E"/>
<rect x="1110.8" y="369.5" width="0.5" height="16.0" fill="#F59C0F"/>
<rect x="1111.3" y="369.5" width="2.2" height="16.0" fill="#E81010"/>
<rect x="1113.5" y="369.5" width="1.4" height="16.0" fill="#1C4587"/>
<text x="1018" y="381.5" text-anchor="end" fill="#000" font-size="11.9">South San Franc...</text>
<text x="1076.0" y="381.7" text-anchor="middle" fill="#fff" font-size="12" font-weight="bold">1.3K</text>
<rect x="1027.5" y="390.1" width="23.1" height="16.0" fill="#3394C2"/>
<rect x="1050.6" y="390.1" width="21.4" height="16.0" fill="#44A62E"/>
<rect x="1072.0" y="390.1" width="14.3" height="16.0" fill="#B5BD40"/>
<rect x="1086.3" y="390.1" width="2.9" height="16.0" fill="#F59C0F"/>
<rect x="1089.2" y="390.1" width="21.6" height="16.0" fill="#E81010"/>
<rect x="1110.8" y="390.1" width="0.8" height="16.0" fill="#1C4587"/>
<text x="1018" y="402.1" text-anchor="end" fill="#000" font-size="11.9">Daly City</text>
<rect x="1027.5" y="410.7" width="17.8" height="16.0" fill="#3394C2"/>
<rect x="1045.3" y="410.7" width="23.1" height="16.0" fill="#44A62E"/>
<rect x="1068.4" y="410.7" width="30.8" height="16.0" fill="#E81010"/>
<rect x="1099.2" y="410.7" width="0.4" height="16.0" fill="#1C4587"/>
<text x="1018" y="422.7" text-anchor="end" fill="#000" font-size="11.9">San Mateo County</text>
<text x="1083.8" y="422.9" text-anchor="middle" fill="#fff" font-size="12" font-weight="bold">0.6K</text>
<rect x="1027.5" y="431.3" width="1.2" height="16.0" fill="#3394C2"/>
<rect x="1028.7" y="431.3" width="56.2" height="16.0" fill="#44A62E"/>
<rect x="1084.9" y="431.3" width="2.9" height="16.0" fill="#1C4587"/>
<text x="1018" y="443.3" text-anchor="end" fill="#000" font-size="11.9">Foster City</text>
<text x="1056.8" y="443.5" text-anchor="middle" fill="#fff" font-size="12" font-weight="bold">1.1K</text>
<rect x="1027.5" y="451.8" width="6.5" height="16.0" fill="#3394C2"/>
<rect x="1034.0" y="451.8" width="38.3" height="16.0" fill="#44A62E"/>
<rect x="1072.3" y="451.8" width="0.8" height="16.0" fill="#F59C0F"/>
<rect x="1073.1" y="451.8" width="3.9" height="16.0" fill="#E81010"/>
<text x="1018" y="463.8" text-anchor="end" fill="#000" font-size="11.9">Belmont</text>
<text x="1053.2" y="464.0" text-anchor="middle" fill="#fff" font-size="12" font-weight="bold">0.7K</text>
<rect x="1027.5" y="472.4" width="9.9" height="16.0" fill="#3394C2"/>
<rect x="1037.4" y="472.4" width="24.8" height="16.0" fill="#44A62E"/>
<rect x="1062.2" y="472.4" width="2.9" height="16.0" fill="#E81010"/>
<rect x="1065.1" y="472.4" width="1.8" height="16.0" fill="#1C4587"/>
<text x="1018" y="484.4" text-anchor="end" fill="#000" font-size="11.9">San Carlos</text>
<rect x="1027.5" y="493.0" width="11.6" height="16.0" fill="#3394C2"/>
<rect x="1039.1" y="493.0" width="13.0" height="16.0" fill="#44A62E"/>
<rect x="1052.1" y="493.0" width="3.8" height="16.0" fill="#E81010"/>
<text x="1018" y="505.0" text-anchor="end" fill="#000" font-size="11.9">San Bruno</text>
<rect x="1027.5" y="513.6" width="4.3" height="16.0" fill="#3394C2"/>
<rect x="1031.8" y="513.6" width="21.2" height="16.0" fill="#44A62E"/>
<rect x="1053.0" y="513.6" width="0.3" height="16.0" fill="#E81010"/>
<text x="1018" y="525.6" text-anchor="end" fill="#000" font-size="11.9">Millbrae</text>
<rect x="1027.5" y="534.2" width="10.1" height="16.0" fill="#3394C2"/>
<rect x="1037.6" y="534.2" width="10.4" height="16.0" fill="#E81010"/>
<text x="1018" y="546.2" text-anchor="end" fill="#000" font-size="11.9">Atherton</text>
<rect x="1027.5" y="554.7" width="15.6" height="16.0" fill="#3394C2"/>
<rect x="1043.1" y="554.7" width="1.2" height="16.0" fill="#E81010"/>
<text x="1018" y="566.7" text-anchor="end" fill="#000" font-size="11.9">Hillsborough</text>
<rect x="1027.5" y="575.3" width="7.6" height="16.0" fill="#3394C2"/>
<rect x="1035.1" y="575.3" width="6.7" height="16.0" fill="#44A62E"/>
<rect x="1041.8" y="575.3" width="0.4" height="16.0" fill="#F59C0F"/>
<rect x="1042.2" y="575.3" width="1.9" height="16.0" fill="#E81010"/>
<text x="1018" y="587.3" text-anchor="end" fill="#000" font-size="11.9">East Palo Alto</text>
<rect x="1027.5" y="595.9" width="5.0" height="16.0" fill="#3394C2"/>
<rect x="1032.5" y="595.9" width="6.5" height="16.0" fill="#44A62E"/>
<rect x="1039.0" y="595.9" width="4.8" height="16.0" fill="#E81010"/>
<rect x="1043.8" y="595.9" width="0.3" height="16.0" fill="#1C4587"/>
<text x="1018" y="607.9" text-anchor="end" fill="#000" font-size="11.9">Half Moon Bay</text>
<rect x="1027.5" y="616.5" width="7.6" height="16.0" fill="#3394C2"/>
<rect x="1035.1" y="616.5" width="2.8" height="16.0" fill="#44A62E"/>
<rect x="1037.9" y="616.5" width="2.3" height="16.0" fill="#E81010"/>
<rect x="1040.2" y="616.5" width="1.3" height="16.0" fill="#1C4587"/>
<text x="1018" y="628.5" text-anchor="end" fill="#000" font-size="11.9">Pacifica</text>
<rect x="1027.5" y="637.1" width="7.0" height="16.0" fill="#3394C2"/>
<rect x="1034.5" y="637.1" width="4.5" height="16.0" fill="#E81010"/>
<text x="1018" y="649.1" text-anchor="end" fill="#000" font-size="11.9">Woodside</text>
<rect x="1027.5" y="657.6" width="2.4" height="16.0" fill="#3394C2"/>
<rect x="1029.9" y="657.6" width="4.7" height="16.0" fill="#E81010"/>
<rect x="1034.6" y="657.6" width="0.8" height="16.0" fill="#1C4587"/>
<text x="1018" y="669.6" text-anchor="end" fill="#000" font-size="11.9">Brisbane</text>
<rect x="1027.5" y="678.2" width="3.3" height="16.0" fill="#3394C2"/>
<rect x="1030.8" y="678.2" width="0.5" height="16.0" fill="#44A62E"/>
<rect x="1031.3" y="678.2" width="1.5" height="16.0" fill="#E81010"/>
<rect x="1032.8" y="678.2" width="0.4" height="16.0" fill="#1C4587"/>
<text x="1018" y="690.2" text-anchor="end" fill="#000" font-size="11.9">Portola Valley</text>
<text x="1028" y="717.7" text-anchor="middle" fill="#000" font-size="12">0K</text>
<text x="1133.5" y="717.7" text-anchor="middle" fill="#000" font-size="12">2K</text>
<text x="1238.5" y="717.7" text-anchor="middle" fill="#000" font-size="12">4K</text>
<text x="1343.5" y="717.7" text-anchor="middle" fill="#000" font-size="12">6K</text>
<rect x="1351.2" y="281" width="7.5" height="422" rx="3.7" fill="#efefef"/>
<rect x="1351.2" y="281" width="7.5" height="401" rx="3.7" fill="#b3b3b3"/>
</svg>

<!-- status bars -->
<div id="sb1" class="abs"></div>
<div id="sb2" class="abs"></div>
<div class="abs" style="left:40px;top:786px;height:26px;line-height:26px;font-size:18px;color:#10695E;white-space:nowrap;-webkit-text-stroke:0.25px #10695E"><span style="text-decoration:underline;text-decoration-thickness:1.1px;text-underline-offset:1.2px">Microsoft Power BI</span></div>
<div class="abs" style="left:735.7px;top:785.3px;height:26px;line-height:26px;font-size:18px;letter-spacing:-0.45px;white-space:nowrap;color:#111;-webkit-text-stroke:0.3px #111">9 of 18</div>
<svg class="abs" style="left:0;top:0" width="1470" height="849" viewBox="0 0 1470 849" fill="none">
  <!-- pager chevrons -->
  <path d="M709.3,790.8 l-6.6,6.3 l6.6,6.3" stroke="#111" stroke-width="1.5"/>
  <path d="M814.9,790.8 l6.6,6.3 l-6.6,6.3" stroke="#111" stroke-width="1.5"/>
  <!-- zoom slider -->
  <rect x="1182.5" y="757.4" width="5" height="1.7" fill="#555"/>
  <rect x="1194" y="757.8" width="125" height="1" fill="#666"/>
  <rect x="1256.2" y="755.4" width="1" height="6" fill="#666"/>
  <rect x="1240.3" y="751.6" width="4" height="13.4" fill="#5a5a5a"/>
  <path d="M1325.7,758.3 h9.2 M1330.3,753.7 v9.2" stroke="#555" stroke-width="1.7"/>
  <!-- fit to page -->
  <rect x="1412.7" y="753.4" width="16.2" height="10.9" rx="2" stroke="#5c5c5c" stroke-width="1.3"/>
  <path d="M1415.4,758.4 v-2.7 h2.3 M1423.9,755.7 h2.3 v2.7 M1426.2,759.4 v2.7 h-2.3 M1417.7,762.1 h-2.3 v-2.7" stroke="#5c5c5c" stroke-width="1.3"/>
  <!-- share -->
  <path d="M1371,791.6 h-3.4 a2.2,2.2 0 0 0 -2.2,2.2 v7.6 a2.2,2.2 0 0 0 2.2,2.2 h7.6 a2.2,2.2 0 0 0 2.2,-2.2 v-1.6" stroke="#111" stroke-width="1.5"/>
  <path d="M1374.6,789.4 l5.3,4.7 l-5.3,4.7 v-2.9 c-2.6,0 -4.6,0.8 -6,3.1 c0.3,-3.9 2.5,-6.3 6,-6.7 z" stroke="#111" stroke-width="1.4" stroke-linejoin="round"/>
  <!-- expand -->
  <path d="M1414.7,803.6 L1428.3,790 M1421.6,789.8 h6.9 v6.9 M1414.5,796.9 v6.9 h6.9" stroke="#111" stroke-width="1.5"/>
</svg>
<div class="abs" style="left:1351.5px;top:749px;height:18px;line-height:18px;font-size:14.4px;color:#6a6a6a;white-space:nowrap">80%</div>

</body>
</html>
